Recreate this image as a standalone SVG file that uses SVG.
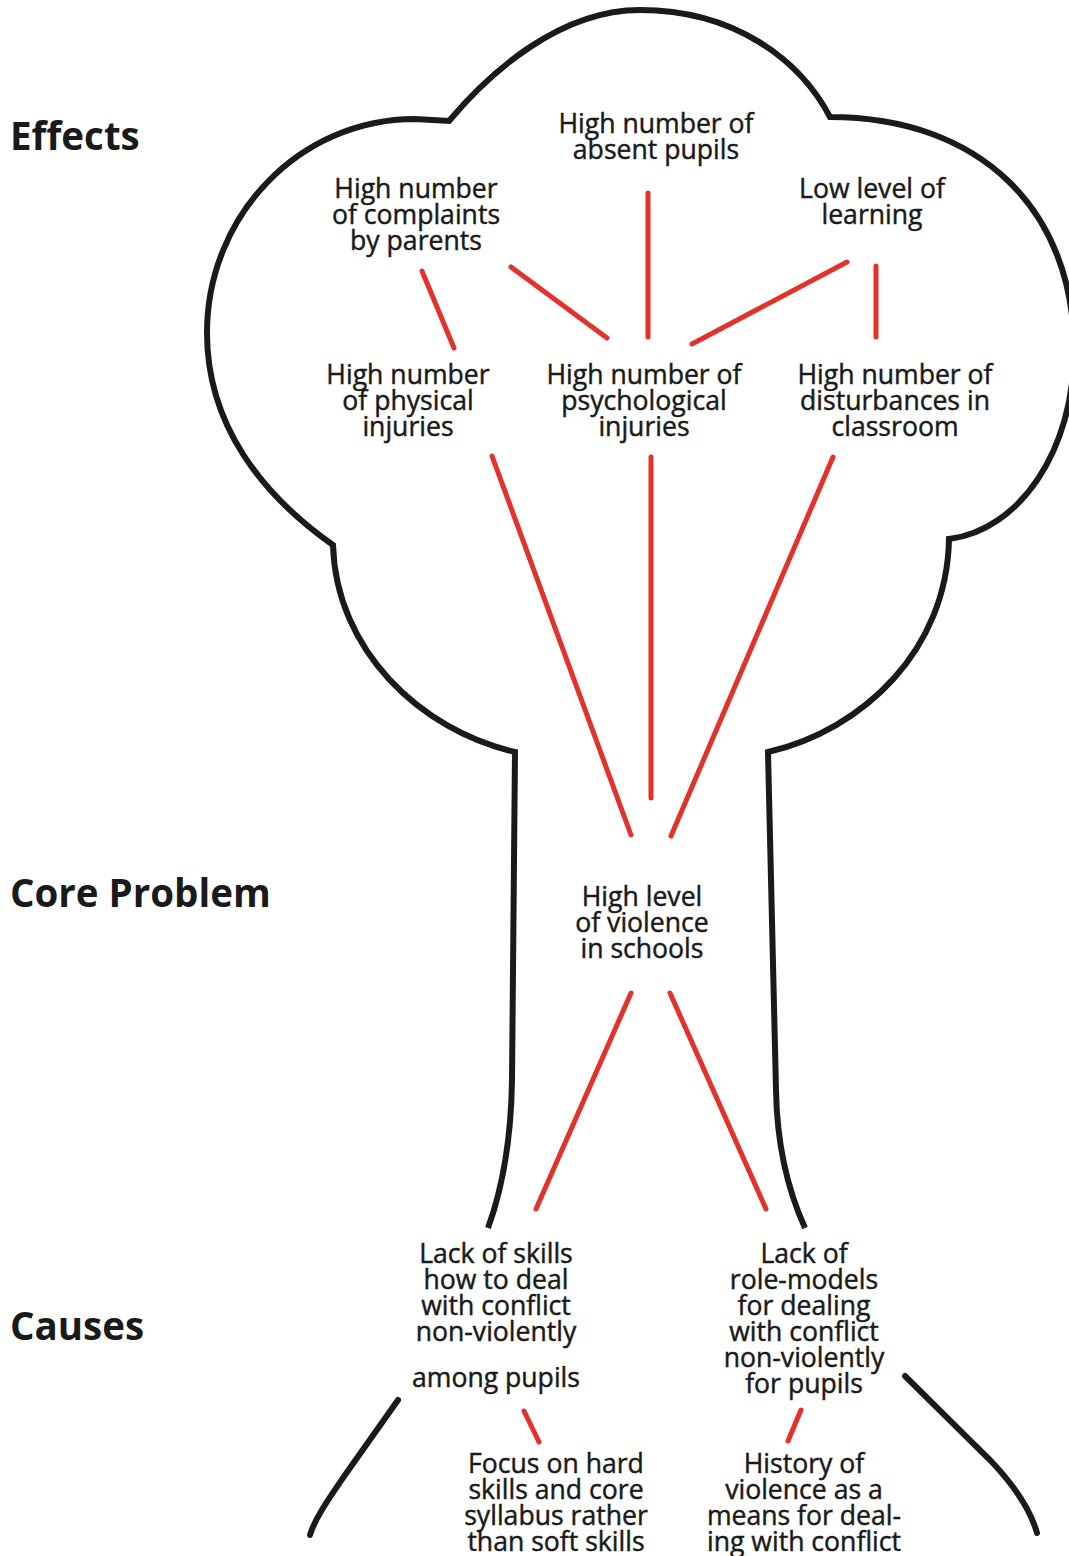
<svg xmlns="http://www.w3.org/2000/svg" width="1069" height="1556" viewBox="0 0 1069 1556">
<style>
.outline{fill:none;stroke:#1a1a1a;stroke-width:6;stroke-linejoin:miter}
.root{fill:none;stroke:#1a1a1a;stroke-width:6;stroke-linecap:round}
.link{stroke:#e3312b;stroke-width:5;stroke-linecap:round;fill:none}
.lbl{font-family:"Open Sans","Liberation Sans",sans-serif;font-size:26.6px;fill:#1a1a1a;stroke:#1a1a1a;stroke-width:0.45;text-anchor:middle}
.hdr{font-family:"Open Sans","Liberation Sans",sans-serif;font-size:38.5px;font-weight:bold;fill:#1a1a1a}
</style>
<rect width="1069" height="1556" fill="#ffffff"/>
<g id="tree">
<path class="outline" d="M 488 1228 C 500 1195 511 1150 512 1080 L 515 752 C 420 730 336 650 333 545 C 262 495 207 425 207 333 C 207 215 300 119 415 119 L 449 121 C 490 72 560 10 640 10 C 735 10 800 60 830 117 C 980 117 1074 210 1074 350 C 1074 450 1020 530 949 539 C 947 650 863 730 768 752 L 776 1090 C 777 1150 790 1195 805 1228"/>
<path class="root" d="M 398 1400 L 345 1475 C 330 1497 315 1518 310 1535"/>
<path class="root" d="M 905 1376 L 990 1460 C 1012 1483 1030 1508 1037 1533"/>
</g>
<g id="headers">
<text class="hdr" x="10" y="150">Effects</text>
<text class="hdr" x="10" y="907">Core Problem</text>
<text class="hdr" x="10" y="1340">Causes</text>
</g>
<g id="connectors">
<line class="link" x1="422" y1="271" x2="454" y2="348"/>
<line class="link" x1="511" y1="267" x2="607" y2="338"/>
<line class="link" x1="648" y1="193" x2="648" y2="337"/>
<line class="link" x1="847" y1="262" x2="692" y2="344"/>
<line class="link" x1="876" y1="266" x2="876" y2="337"/>
<line class="link" x1="492" y1="456" x2="631" y2="835"/>
<line class="link" x1="651" y1="457" x2="651" y2="798"/>
<line class="link" x1="833" y1="457" x2="671" y2="836"/>
<line class="link" x1="631" y1="993" x2="536" y2="1209"/>
<line class="link" x1="670" y1="993" x2="766" y2="1209"/>
<line class="link" x1="524" y1="1411" x2="539" y2="1442"/>
<line class="link" x1="801" y1="1410" x2="788" y2="1441"/>
</g>
<g id="absent"><text class="lbl" x="656" y="133">High number of</text><text class="lbl" x="656" y="159">absent pupils</text></g>
<g id="complaints"><text class="lbl" x="416" y="198">High number</text><text class="lbl" x="416" y="224">of complaints</text><text class="lbl" x="416" y="250">by parents</text></g>
<g id="learning"><text class="lbl" x="872" y="198">Low level of</text><text class="lbl" x="872" y="224">learning</text></g>
<g id="physical"><text class="lbl" x="408" y="384">High number</text><text class="lbl" x="408" y="410">of physical</text><text class="lbl" x="408" y="436">injuries</text></g>
<g id="psychological"><text class="lbl" x="644" y="384">High number of</text><text class="lbl" x="644" y="410">psychological</text><text class="lbl" x="644" y="436">injuries</text></g>
<g id="disturbances"><text class="lbl" x="895" y="384">High number of</text><text class="lbl" x="895" y="410">disturbances in</text><text class="lbl" x="895" y="436">classroom</text></g>
<g id="core"><text class="lbl" x="642" y="906">High level</text><text class="lbl" x="642" y="932">of violence</text><text class="lbl" x="642" y="958">in schools</text></g>
<g id="skills"><text class="lbl" x="496" y="1263">Lack of skills</text><text class="lbl" x="496" y="1289">how to deal</text><text class="lbl" x="496" y="1315">with conflict</text><text class="lbl" x="496" y="1341">non-violently</text><text class="lbl" x="496" y="1387">among pupils</text></g>
<g id="rolemodels"><text class="lbl" x="804" y="1263">Lack of</text><text class="lbl" x="804" y="1289">role-models</text><text class="lbl" x="804" y="1315">for dealing</text><text class="lbl" x="804" y="1341">with conflict</text><text class="lbl" x="804" y="1367">non-violently</text><text class="lbl" x="804" y="1393">for pupils</text></g>
<g id="focus"><text class="lbl" x="556" y="1473">Focus on hard</text><text class="lbl" x="556" y="1499">skills and core</text><text class="lbl" x="556" y="1525">syllabus rather</text><text class="lbl" x="556" y="1551">than soft skills</text></g>
<g id="history"><text class="lbl" x="804" y="1473">History of</text><text class="lbl" x="804" y="1499">violence as a</text><text class="lbl" x="804" y="1525">means for deal-</text><text class="lbl" x="804" y="1551">ing with conflict</text></g>
</svg>
